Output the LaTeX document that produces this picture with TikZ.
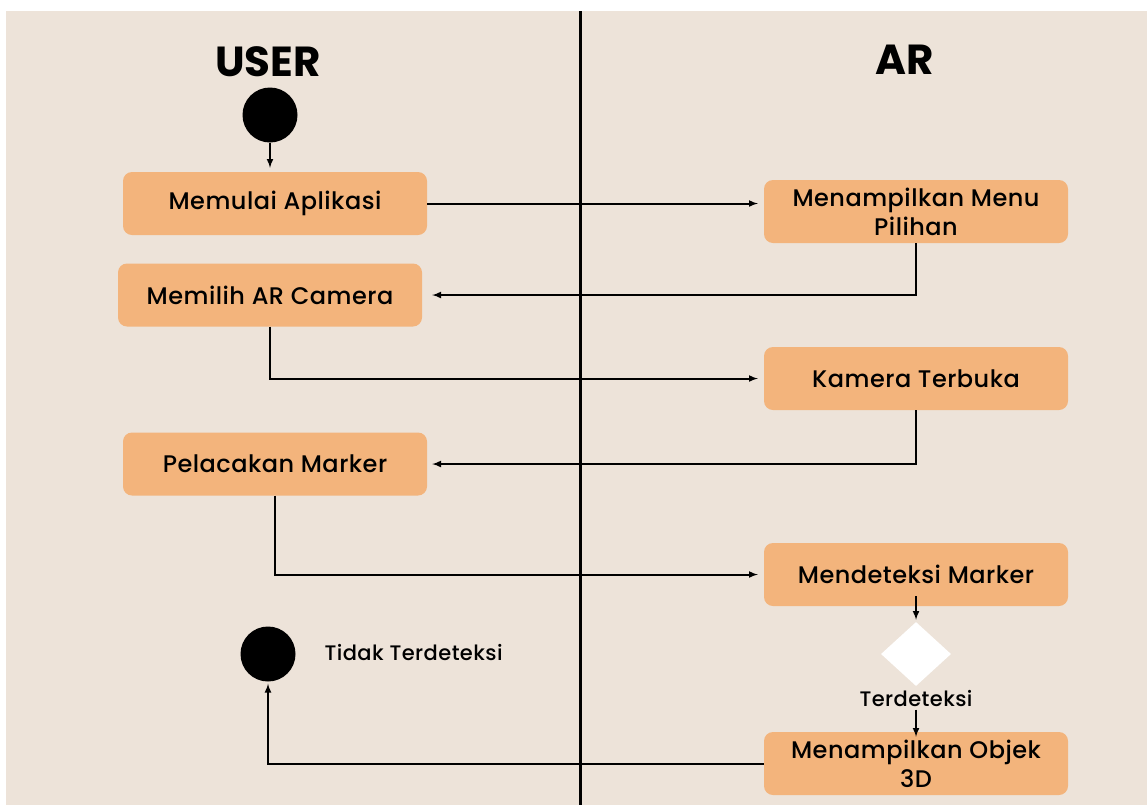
\documentclass[tikz,border=0pt]{standalone}
\usepackage{fontspec}
\setmainfont{Poppins}
\newfontfamily\medfont{Poppins Medium}[LetterSpace=2]
\usetikzlibrary{arrows.meta,shapes.geometric}

\definecolor{paper}{HTML}{EDE3D9}
\definecolor{boxfill}{HTML}{F3B47C}

\tikzset{
    act/.style={fill=boxfill, rounded corners=9pt, minimum width=304pt, minimum height=63pt,
        align=center, font=\medfont\fontsize{24}{29}\selectfont, inner sep=0pt},
    note/.style={font=\medfont\fontsize{21}{23}\selectfont},
    dot/.style={circle, fill=black, minimum size=55pt, inner sep=0pt},
    flow/.style={line width=2pt, -{latex[length=7pt,width=6pt]}},
}

\begin{document}
\begin{tikzpicture}[x=1pt,y=-1pt]

    % page and lanes
    \fill[white] (0,0) rectangle (1147,805);
    \fill[paper] (6,11) rectangle (1147,805);
    \coordinate (laneTop) at (580,11);
    \coordinate (laneBot) at (580,805);
    \draw[line width=3pt] (laneTop) -- (laneBot);

    \node[font=\fontsize{42}{44}\selectfont\bfseries] (user) at (268,62) {USER};
    \node[font=\fontsize{42}{44}\selectfont\bfseries] (ar) at (905,60) {AR};

    % user lane
    \node[dot] (start) at (270,115) {};
    \node[act] (mulai) at (275,203.5) {Memulai Aplikasi};
    \node[act] (pilih) at (270,295) {Memilih AR Camera};
    \node[act] (lacak) at (275,464) {Pelacakan Marker};
    \node[dot] (stop) at (268,654) {};
    \node[note, anchor=west] (gagal) at (321,652) {Tidak Terdeteksi};

    % ar lane
    \node[act] (menu) at (916,211.5) {Menampilkan Menu\\Pilihan};
    \node[act] (kamera) at (916,378.5) {Kamera Terbuka};
    \node[act] (deteksi) at (916,574.5) {Mendeteksi Marker};
    \node[diamond, fill=white, minimum width=70pt, minimum height=64pt, inner sep=0pt] (cek) at (916,654) {};
    \node[note] (ok) at (916,698) {Terdeteksi};
    \node[act] (objek) at (916,763.5) {Menampilkan Objek\\3D};

    % transitions
    \draw[flow, shorten >=4pt] (start) -- (start |- mulai.north);
    \draw[flow, shorten >=6pt] (mulai.east) -- (mulai.east -| menu.west);
    \draw[flow, shorten >=10pt] (menu.south) |- (pilih.east);
    \draw[flow, shorten >=6pt] (pilih.south) |- (kamera.west);
    \draw[flow, shorten >=5pt] (kamera.south) |- (lacak.east);
    \draw[flow, shorten >=6pt] (lacak.south) |- (deteksi.west);
    \draw[flow, shorten <=-10pt, shorten >=2pt] (deteksi.south) -- (cek.north);
    \draw[flow, shorten >=-5pt] (ok.south) -- (objek.north);
    \draw[flow, shorten >=2pt] (objek.west) -| (stop.south);

\end{tikzpicture}
\end{document}
